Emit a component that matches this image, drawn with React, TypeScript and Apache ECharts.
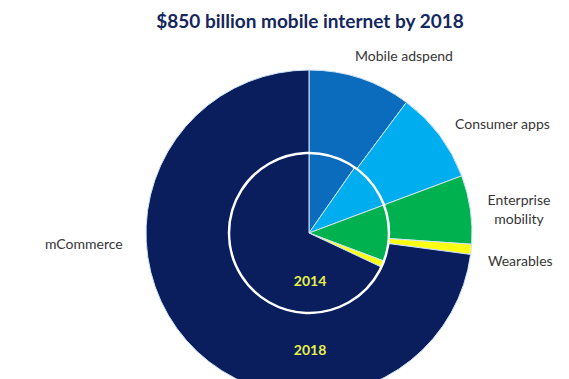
import React, { useEffect, useRef } from "react";
import * as echarts from "echarts";

const categories = ["Mobile adspend", "Consumer apps", "Enterprise mobility", "Wearables", "mCommerce"];
const colors = ["#0B6CBE", "#00AEEF", "#00B14F", "#FFFF14", "#0A1E5E"];
const values2014 = [9.7, 9.6, 11.4, 1.3, 68.0];
const values2018 = [10.2, 9.1, 6.8, 1.0, 72.9];
const titleText = "$850 billion mobile internet by 2018";
const yearLabels = ["2014", "2018"];

export default function App() {
  const ref = useRef<HTMLDivElement>(null);
  useEffect(() => {
    if (!ref.current) return;
    const chart = echarts.init(ref.current, undefined, { renderer: "svg" });
    const cx = 309;
    const cy = 233;
    const mk = (vals: number[]) =>
      categories.map((c, i) => ({ name: c, value: vals[i], itemStyle: { color: colors[i] } }));
    const labelStyle = { fill: "#363636", font: "14px Lato", textAlign: "left" as const };
    chart.setOption({
      animation: false,
      series: [
        {
          type: "pie",
          center: [cx, cy],
          radius: [80, 163],
          startAngle: 90,
          clockwise: true,
          label: { show: false },
          labelLine: { show: false },
          silent: true,
          itemStyle: { borderColor: "#cfe4f7", borderWidth: 1 },
          data: mk(values2018),
        },
        {
          type: "pie",
          center: [cx, cy],
          radius: [0, 80],
          startAngle: 90,
          clockwise: true,
          label: { show: false },
          labelLine: { show: false },
          silent: true,
          itemStyle: { borderColor: "#cfe4f7", borderWidth: 1 },
          data: mk(values2014),
        },
      ],
      graphic: [
        {
          type: "circle",
          shape: { cx, cy, r: 80 },
          style: { fill: "none", stroke: "#ffffff", lineWidth: 2.5 },
          z: 10,
        },
        {
          type: "text",
          x: 310,
          y: 20,
          style: { text: titleText, fill: "#14275E", font: "bold 19px Lato", textAlign: "center", textVerticalAlign: "middle" },
          z: 10,
        },
        { type: "text", x: 355, y: 55, style: { ...labelStyle, text: categories[0], textVerticalAlign: "middle" }, z: 10 },
        { type: "text", x: 455, y: 123, style: { ...labelStyle, text: categories[1], textVerticalAlign: "middle" }, z: 10 },
        { type: "text", x: 519, y: 199, style: { ...labelStyle, text: "Enterprise", textAlign: "center", textVerticalAlign: "middle" }, z: 10 },
        { type: "text", x: 519, y: 218, style: { ...labelStyle, text: "mobility", textAlign: "center", textVerticalAlign: "middle" }, z: 10 },
        { type: "text", x: 488, y: 260, style: { ...labelStyle, text: categories[3], textVerticalAlign: "middle" }, z: 10 },
        { type: "text", x: 45, y: 243, style: { ...labelStyle, text: categories[4], textVerticalAlign: "middle" }, z: 10 },
        { type: "text", x: 310, y: 280, style: { text: yearLabels[0], fill: "#E8F04A", font: "bold 14px Lato", textAlign: "center", textVerticalAlign: "middle" }, z: 10 },
        { type: "text", x: 310, y: 349, style: { text: yearLabels[1], fill: "#E8F04A", font: "bold 14px Lato", textAlign: "center", textVerticalAlign: "middle" }, z: 10 },
      ],
    });
    return () => chart.dispose();
  }, []);
  return <div ref={ref} style={{ position: "absolute", left: 0, top: 0, width: 569, height: 379, background: "#fff" }} />;
}
